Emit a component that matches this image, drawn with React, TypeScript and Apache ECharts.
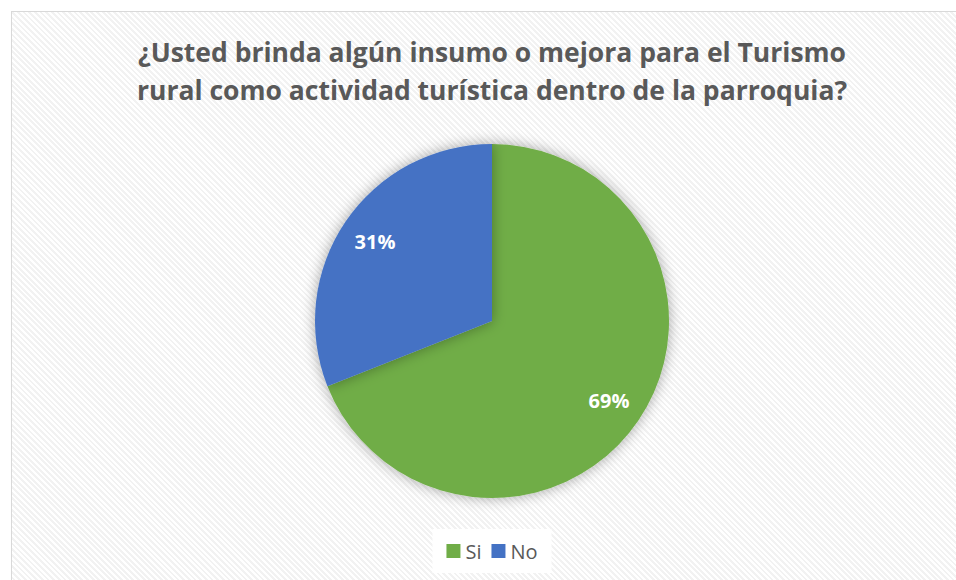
import React, { useEffect, useRef } from "react";
import * as echarts from "echarts";

const titleLines = [
  "¿Usted brinda algún insumo o mejora para el Turismo",
  "rural como actividad turística dentro de la parroquia?",
];
const categories = ["Si", "No"];
const values = [69, 31];
const colors = ["#70AD47", "#4472C4"];

export default function App() {
  const ref = useRef<HTMLDivElement>(null);
  useEffect(() => {
    if (!ref.current) return;
    const chart = echarts.init(ref.current, undefined, { renderer: "svg" });
    const data = categories.map((c, i) => ({
      name: c,
      value: values[i],
      itemStyle: { color: colors[i] },
    }));
    chart.setOption({
      animation: false,
      title: {
        text: titleLines.join("\n"),
        left: "center",
        top: 16,
        textStyle: {
          fontFamily: "Open Sans",
          fontWeight: "bold",
          fontSize: 26.5,
          lineHeight: 38,
          color: "#595959",
        },
      },
      legend: {
        data: categories,
        top: 517,
        left: "center",
        itemWidth: 14,
        itemHeight: 14,
        itemGap: 10,
        padding: [12, 14],
        backgroundColor: "#ffffff",
        icon: "rect",
        textStyle: { fontFamily: "Open Sans", fontSize: 20, color: "#595959" },
      },
      series: [
        {
          type: "pie",
          center: [480, 309],
          radius: 177,
          startAngle: 90,
          clockwise: true,
          label: { show: false },
          labelLine: { show: false },
          itemStyle: {
            shadowBlur: 14,
            shadowColor: "rgba(0,0,0,0.35)",
          },
          emphasis: { disabled: true },
          data,
        },
        {
          type: "pie",
          center: [480, 309],
          radius: [100, 177],
          startAngle: 90,
          clockwise: true,
          silent: true,
          itemStyle: { color: "transparent" },
          label: {
            show: true,
            position: "inside",
            formatter: "{d}%",
            fontFamily: "Open Sans",
            fontWeight: "bold",
            fontSize: 20,
            color: "#ffffff",
          },
          labelLine: { show: false },
          emphasis: { disabled: true },
          data: categories.map((c, i) => ({ name: c, value: values[i] })),
        },
      ],
    });
    return () => chart.dispose();
  }, []);
  return (
    <div style={{ position: "fixed", left: 0, top: 0, width: 956, height: 580, background: "#ffffff", overflow: "hidden" }}>
      <div
        style={{
          position: "absolute",
          left: 11,
          top: 11,
          width: 960,
          height: 600,
          border: "1px solid #d9d9d9",
          boxSizing: "border-box",
          background: "repeating-linear-gradient(45deg, #ffffff 0px, #ffffff 2px, #f2f2f2 2px, #f2f2f2 4px)",
        }}
      >
        <div ref={ref} style={{ width: 960, height: 600 }} />
      </div>
    </div>
  );
}
